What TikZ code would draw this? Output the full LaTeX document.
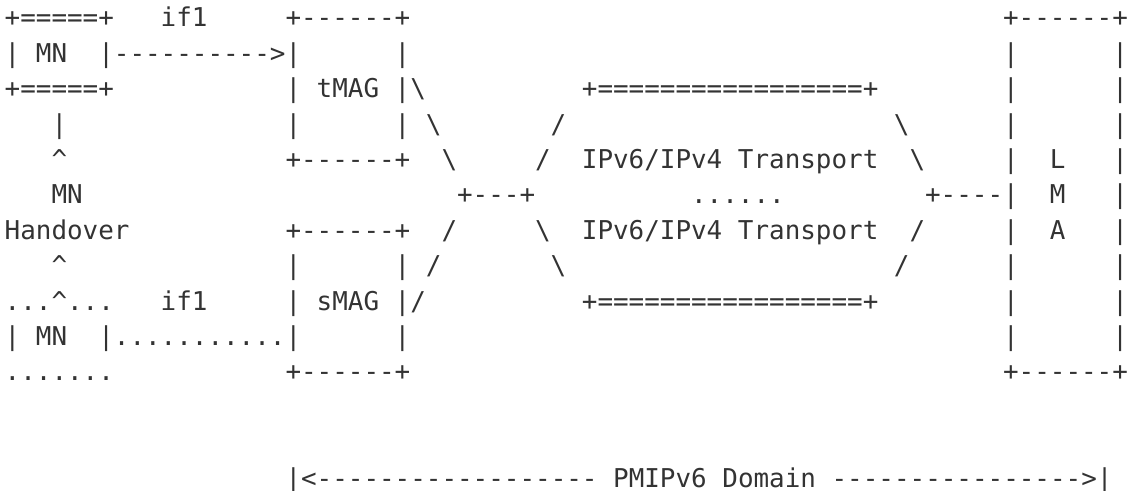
\documentclass[tikz,border=0pt]{standalone}
\usepackage{fontspec}
\setmonofont{DejaVu Sans Mono}
\definecolor{asciigray}{HTML}{333333}
\tikzset{ascii/.style={anchor=base west, inner sep=0pt, outer sep=0pt, text=asciigray, font=\ttfamily\fontsize{12.96}{15}\selectfont}}

\begin{document}
\begin{tikzpicture}[x=7.8pt, y=-17.7pt, every node/.style={ascii}]
  \useasboundingbox (-2.35pt,-4.2pt) rectangle (562.65pt,-249.7pt);
  % row 1
  \node (mnTop) at (0,1) {+=====+};
  \node (tIf) at (10,1) {if1};
  \node (tmagTop) at (18,1) {+------+};
  \node (lmaTop) at (64,1) {+------+};
  % row 2
  \node (mnSide) at (0,2) {| MN};
  \node (tArrow) at (6,2) {|---------->|};
  \node (tmagR2) at (25,2) {|};
  \node (lmaL2) at (64,2) {|};
  \node (lmaR2) at (71,2) {|};
  % row 3
  \node (mnBot) at (0,3) {+=====+};
  \node (tmagName) at (18,3) {| tMAG |\textbackslash};
  \node (netTop) at (37,3) {+=================+};
  \node (lmaL3) at (64,3) {|};
  \node (lmaR3) at (71,3) {|};
  % row 4
  \node (hoBar) at (3,4) {|};
  \node (tmagL4) at (18,4) {|};
  \node (tmagR4) at (25,4) {| \textbackslash};
  \node (upA4) at (35,4) {/};
  \node (upB4) at (57,4) {\textbackslash};
  \node (lmaL4) at (64,4) {|};
  \node (lmaR4) at (71,4) {|};
  % row 5
  \node (hoUp) at (3,5) {\textasciicircum};
  \node (tmagBot) at (18,5) {+------+};
  \node (upA5) at (28,5) {\textbackslash};
  \node (upB5) at (34,5) {/};
  \node (netA) at (37,5) {IPv6/IPv4 Transport};
  \node (upC5) at (58,5) {\textbackslash};
  \node (lmaL5) at (64,5) {|};
  \node (lmaA) at (67,5) {L};
  \node (lmaR5) at (71,5) {|};
  % row 6
  \node (hoMn) at (3,6) {MN};
  \node (hub) at (29,6) {+---+};
  \node (netDots) at (44,6) {......};
  \node (lmaLink) at (59,6) {+----|};
  \node (lmaB) at (67,6) {M};
  \node (lmaR6) at (71,6) {|};
  % row 7
  \node (hoText) at (0,7) {Handover};
  \node (smagTop) at (18,7) {+------+};
  \node (dnA7) at (28,7) {/};
  \node (dnB7) at (34,7) {\textbackslash};
  \node (netB) at (37,7) {IPv6/IPv4 Transport};
  \node (dnC7) at (58,7) {/};
  \node (lmaL7) at (64,7) {|};
  \node (lmaC) at (67,7) {A};
  \node (lmaR7) at (71,7) {|};
  % row 8
  \node (hoUp2) at (3,8) {\textasciicircum};
  \node (smagL8) at (18,8) {|};
  \node (smagR8) at (25,8) {| /};
  \node (dnA8) at (35,8) {\textbackslash};
  \node (dnB8) at (57,8) {/};
  \node (lmaL8) at (64,8) {|};
  \node (lmaR8) at (71,8) {|};
  % row 9
  \node (smnTop) at (0,9) {...\textasciicircum...};
  \node (sIf) at (10,9) {if1};
  \node (smagName) at (18,9) {| sMAG |/};
  \node (netBot) at (37,9) {+=================+};
  \node (lmaL9) at (64,9) {|};
  \node (lmaR9) at (71,9) {|};
  % row 10
  \node (smnSide) at (0,10) {| MN};
  \node (sLink) at (6,10) {|...........|};
  \node (smagR10) at (25,10) {|};
  \node (lmaL10) at (64,10) {|};
  \node (lmaR10) at (71,10) {|};
  % row 11
  \node (smnBot) at (0,11) {.......};
  \node (smagBot) at (18,11) {+------+};
  \node (lmaBot) at (64,11) {+------+};
  % domain line
  \node (domain) at (18,14) {|<------------------ PMIPv6 Domain ---------------->|};
\end{tikzpicture}
\end{document}
